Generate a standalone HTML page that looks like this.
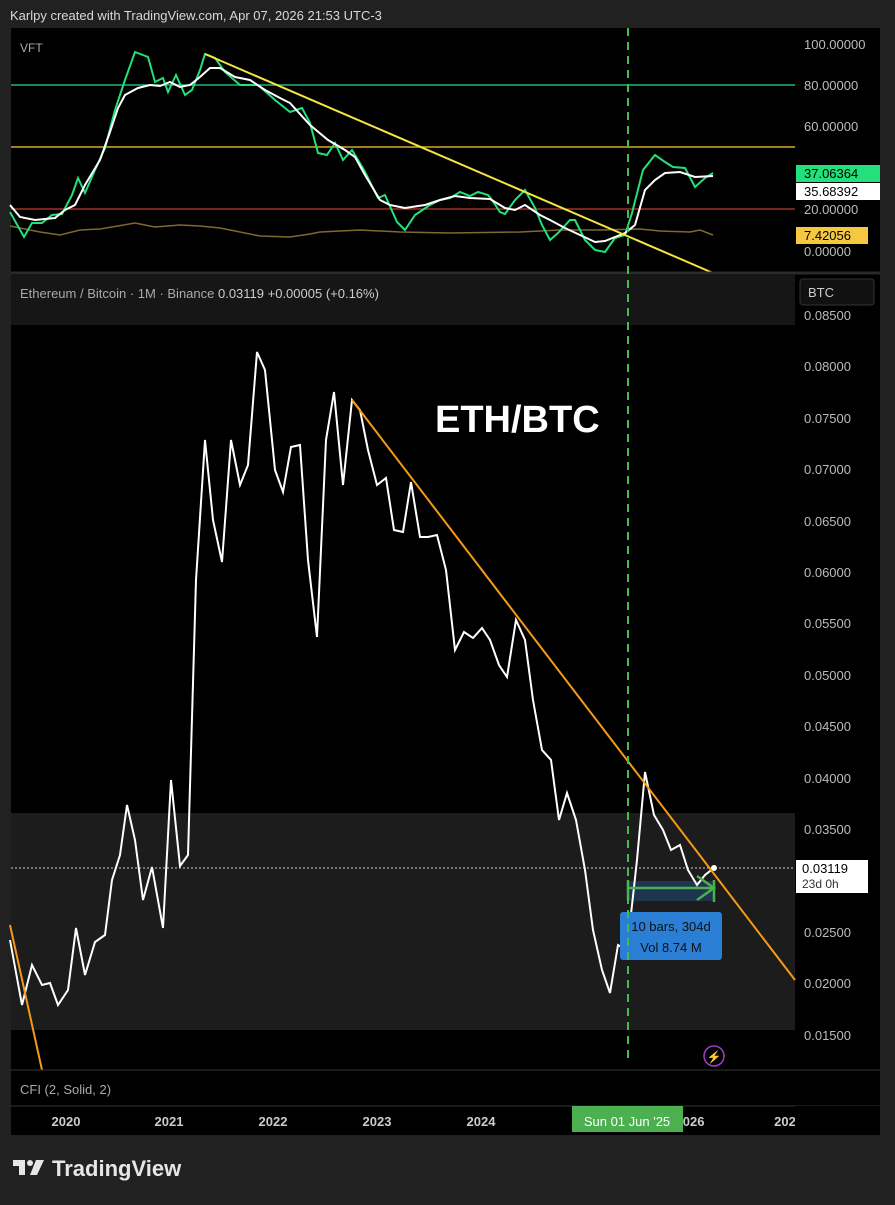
<!DOCTYPE html><html><head><style>
body{margin:0;background:#212121;width:895px;height:1200px;overflow:hidden;font-family:"Liberation Sans",sans-serif}
</style></head><body>
<svg width="895" height="1200" xmlns="http://www.w3.org/2000/svg" font-family="Liberation Sans, sans-serif">
<rect width="895" height="1200" fill="#212121"/>
<text x="10" y="20" fill="#d8d8d8" font-size="13">Karlpy created with TradingView.com, Apr 07, 2026 21:53 UTC-3</text>
<rect x="11" y="28" width="869" height="1107" fill="#000"/>
<!-- top pane -->
<text x="20" y="52" fill="#aaa" font-size="12">VFT</text>
<line x1="11" y1="85" x2="795" y2="85" stroke="#22b573" stroke-width="1.5"/>
<line x1="11" y1="147" x2="795" y2="147" stroke="#d4a72c" stroke-width="1.5"/>
<line x1="11" y1="209" x2="795" y2="209" stroke="#c0392b" stroke-width="1.2"/>
<polyline fill="none" stroke="#7d6a2e" stroke-width="1.5" points="10,226 40,232 60,235 80,230 100,229 135,223 155,227 180,225 200,226 220,228 230,230 260,236 290,237 310,234 320,232 360,230 400,232 450,233 520,232 560,230 600,230 640,229 660,231 690,232 700,230 713,235"/>
<polyline fill="none" stroke="#22e07a" stroke-width="2" points="10,212 24,237 32,223 42,223 52,215 62,214 72,195 78,178 85,193 95,170 105,148 115,110 125,80 135,52 148,57 155,82 163,78 168,92 176,75 185,95 192,90 200,70 205,54 215,58 225,72 240,85 258,85 275,100 290,112 302,108 310,123 318,153 327,155 335,143 343,160 352,150 364,170 378,198 385,195 397,222 405,230 415,215 430,205 440,200 450,198 460,192 470,196 478,192 488,195 492,200 500,212 505,214 515,200 525,190 535,208 542,225 550,240 558,233 570,220 575,220 585,240 595,250 605,252 615,238 625,235 632,213 643,170 655,155 665,162 673,167 685,168 695,187 705,178 713,173"/>
<polyline fill="none" stroke="#fff" stroke-width="2" points="10,205 20,217 35,220 55,218 65,210 75,205 85,185 100,160 110,132 118,108 125,95 138,88 150,85 160,86 170,82 180,87 190,85 200,77 210,68 220,68 235,77 250,80 265,90 280,98 290,103 310,125 328,140 345,150 355,157 365,175 380,200 390,205 405,208 425,205 440,200 455,196 470,198 490,199 505,208 515,210 525,205 540,215 550,220 565,228 580,235 595,242 605,241 625,233 635,225 645,190 655,180 665,173 680,172 695,177 713,176"/>
<line x1="205" y1="54" x2="713" y2="273" stroke="#f5e342" stroke-width="2"/>
<g font-size="13" fill="#bbb">
<text x="804" y="49">100.00000</text><text x="804" y="90">80.00000</text><text x="804" y="131">60.00000</text><text x="804" y="214">20.00000</text><text x="804" y="256">0.00000</text>
</g>
<rect x="796" y="165" width="84" height="17" fill="#22e07a"/><text x="804" y="178" font-size="13" fill="#000">37.06364</text>
<rect x="796" y="183" width="84" height="17" fill="#fff"/><text x="804" y="196" font-size="13" fill="#000">35.68392</text>
<rect x="796" y="227" width="72" height="17" fill="#f5c842"/><text x="804" y="240" font-size="13" fill="#000">7.42056</text>
<line x1="11" y1="273" x2="880" y2="273" stroke="#2a2a2a" stroke-width="3"/>
<!-- legend row -->
<rect x="11" y="275" width="784" height="50" fill="#161616"/>
<text x="20" y="298" font-size="13" fill="#aaa">Ethereum / Bitcoin · 1M · Binance <tspan fill="#ccc">0.03119  +0.00005 (+0.16%)</tspan></text>
<rect x="800" y="279" width="74" height="26" rx="3" fill="#111" stroke="#333"/>
<text x="808" y="297" font-size="13" fill="#ccc">BTC</text>
<!-- band -->
<rect x="11" y="813" width="784" height="217" fill="#1c1c1c"/>
<g font-size="13" fill="#bbb">
<text x="804" y="320">0.08500</text><text x="804" y="371">0.08000</text><text x="804" y="423">0.07500</text><text x="804" y="474">0.07000</text><text x="804" y="526">0.06500</text><text x="804" y="577">0.06000</text><text x="804" y="628">0.05500</text><text x="804" y="680">0.05000</text><text x="804" y="731">0.04500</text><text x="804" y="783">0.04000</text><text x="804" y="834">0.03500</text><text x="804" y="937">0.02500</text><text x="804" y="988">0.02000</text><text x="804" y="1040">0.01500</text>
</g>
<text x="435" y="432" font-size="38" font-weight="bold" fill="#fff">ETH/BTC</text>
<line x1="11" y1="868" x2="795" y2="868" stroke="#ccc" stroke-dasharray="2,2" stroke-width="1"/>
<rect x="796" y="860" width="72" height="33" fill="#fff"/><text x="802" y="873" font-size="13" fill="#000">0.03119</text><text x="802" y="888" font-size="12" fill="#333">23d 0h</text>
<rect x="628" y="881" width="86" height="20" fill="#1e3550"/>
<polyline fill="none" stroke="#fff" stroke-width="2" points="10,940 22,1005 32,965 42,985 50,983 58,1005 68,990 76,928 85,975 95,942 105,935 112,880 120,855 127,805 135,840 143,900 152,867 163,928 171,780 180,866 188,855 196,580 205,440 213,520 222,562 231,440 240,485 248,465 257,352 265,370 275,470 283,492 291,447 300,445 308,560 317,637 326,440 334,392 343,485 352,400 360,410 368,450 377,485 386,478 394,530 403,532 411,482 420,537 428,537 437,535 446,570 455,650 464,632 473,638 482,628 490,640 499,665 507,677 516,620 525,640 533,700 542,750 551,760 559,820 567,793 576,820 585,870 593,930 602,970 610,993 618,945 627,950 637,860 645,772 654,815 663,830 671,850 680,845 688,870 697,885 705,875 714,868"/>
<circle cx="714" cy="868" r="3" fill="#fff"/>
<line x1="352" y1="400" x2="795" y2="980" stroke="#f59a16" stroke-width="2"/>
<line x1="10" y1="925" x2="42" y2="1070" stroke="#f59a16" stroke-width="2"/>
<g stroke="#4caf50" stroke-width="2.5" fill="none">
<line x1="628" y1="888" x2="714" y2="888"/><line x1="628" y1="880" x2="628" y2="900"/><line x1="714" y1="880" x2="714" y2="902"/>
<polyline points="697,876 714,888 697,900"/>
</g>
<rect x="620" y="912" width="102" height="48" rx="3" fill="#2a7fd4"/>
<text x="671" y="931" font-size="13" fill="#111" text-anchor="middle">10 bars, 304d</text>
<text x="671" y="952" font-size="13" fill="#111" text-anchor="middle">Vol 8.74 M</text>
<line x1="628" y1="28" x2="628" y2="1060" stroke="#3fbf4f" stroke-width="2" stroke-dasharray="8,6"/>
<circle cx="714" cy="1056" r="10" fill="none" stroke="#a03cc8" stroke-width="1.5"/>
<text x="714" y="1061" font-size="12" fill="#a03cc8" text-anchor="middle">⚡</text>
<line x1="11" y1="1070" x2="880" y2="1070" stroke="#333"/>
<text x="20" y="1094" font-size="13" fill="#aaa">CFI (2, Solid, 2)</text>
<line x1="11" y1="1106" x2="880" y2="1106" stroke="#333"/>
<g font-size="13" fill="#ccc" font-weight="bold" text-anchor="middle">
<text x="66" y="1126">2020</text><text x="169" y="1126">2021</text><text x="273" y="1126">2022</text><text x="377" y="1126">2023</text><text x="481" y="1126">2024</text><text x="690" y="1126">2026</text><text x="785" y="1126">202</text>
</g>
<rect x="572" y="1106" width="111" height="26" fill="#4caf50"/>
<text x="627" y="1126" font-size="13" fill="#fff" text-anchor="middle">Sun 01 Jun '25</text>
<rect x="795" y="1106" width="85" height="29" fill="#000"/>
<g fill="#e6e6e6"><rect x="13" y="1160" width="12" height="6"/><rect x="19" y="1160" width="6" height="15"/><circle cx="30" cy="1163" r="3"/><polygon points="36,1160 44,1160 37,1175 30,1175"/></g>
<text x="52" y="1176" font-size="22" font-weight="bold" fill="#e6e6e6">TradingView</text>
</svg>
</body></html>
